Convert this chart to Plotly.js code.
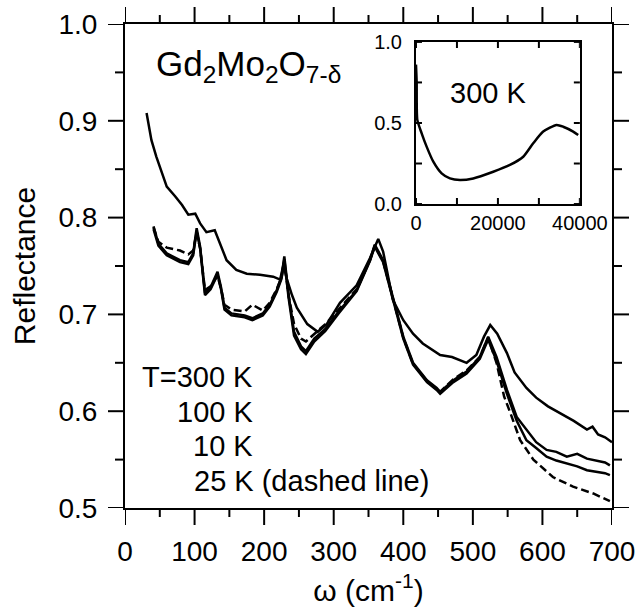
<!DOCTYPE html>
<html>
<head>
<meta charset="utf-8">
<script src="https://cdn.plot.ly/plotly-3.0.1.min.js"></script>
<style>html,body{margin:0;padding:0;background:#fff;}#chart{width:640px;height:614px;}</style>
</head>
<body>
<div id="chart"></div>
<script>
// ---- Data ----
const w300 = [31, 38, 45, 53, 60, 72, 82, 91, 101, 108, 117, 129, 137, 146, 160, 175, 194, 213, 223, 228, 232, 240, 247, 262, 277, 290, 309, 333, 352, 364, 371, 385, 400, 414, 428, 441, 453, 470, 491, 505, 516, 525, 535, 549, 560, 577, 591, 608, 625, 645, 664, 672, 680, 690, 700];
const r300 = [0.908, 0.88, 0.863, 0.846, 0.832, 0.822, 0.813, 0.803, 0.804, 0.794, 0.785, 0.787, 0.773, 0.756, 0.746, 0.742, 0.741, 0.739, 0.736, 0.752, 0.738, 0.72, 0.707, 0.69, 0.682, 0.69, 0.712, 0.73, 0.758, 0.778, 0.765, 0.715, 0.694, 0.68, 0.67, 0.664, 0.658, 0.656, 0.65, 0.658, 0.677, 0.689, 0.68, 0.66, 0.64, 0.624, 0.614, 0.605, 0.598, 0.59, 0.581, 0.584, 0.576, 0.573, 0.568];

const w100 = [41, 48, 60, 79, 91, 98, 103, 108, 115, 123, 133, 138, 143, 153, 172, 183, 198, 208, 218, 225, 229, 235, 243, 253, 260, 272, 288, 307, 333, 352, 359, 371, 385, 400, 414, 434, 448, 453, 472, 491, 510, 522, 534, 549, 563, 577, 591, 606, 620, 635, 650, 664, 680, 690, 697];
const r100 = [0.791, 0.773, 0.763, 0.756, 0.754, 0.763, 0.789, 0.77, 0.722, 0.728, 0.744, 0.728, 0.707, 0.701, 0.699, 0.696, 0.701, 0.71, 0.725, 0.739, 0.76, 0.721, 0.682, 0.667, 0.662, 0.675, 0.685, 0.703, 0.725, 0.756, 0.772, 0.756, 0.718, 0.677, 0.65, 0.632, 0.624, 0.62, 0.632, 0.641, 0.656, 0.677, 0.656, 0.622, 0.594, 0.581, 0.568, 0.56, 0.558, 0.553, 0.556, 0.551, 0.549, 0.547, 0.544];

const w10 = [41, 48, 60, 79, 91, 98, 103, 108, 115, 123, 133, 138, 143, 153, 172, 183, 198, 208, 218, 225, 229, 235, 243, 253, 260, 272, 288, 307, 333, 352, 359, 371, 385, 400, 414, 434, 448, 453, 472, 491, 510, 522, 534, 549, 563, 577, 591, 606, 620, 635, 650, 664, 680, 690, 697];
const r10 = [0.788, 0.771, 0.761, 0.754, 0.752, 0.761, 0.786, 0.768, 0.72, 0.726, 0.741, 0.726, 0.705, 0.699, 0.697, 0.694, 0.699, 0.708, 0.723, 0.737, 0.757, 0.718, 0.678, 0.664, 0.659, 0.672, 0.683, 0.701, 0.724, 0.755, 0.77, 0.754, 0.716, 0.675, 0.648, 0.63, 0.622, 0.618, 0.63, 0.639, 0.654, 0.674, 0.652, 0.618, 0.59, 0.57, 0.562, 0.553, 0.549, 0.546, 0.543, 0.539, 0.537, 0.536, 0.534];

const w25 = [41, 48, 60, 79, 91, 98, 103, 108, 115, 123, 133, 138, 143, 153, 172, 183, 198, 208, 218, 225, 229, 235, 243, 253, 260, 272, 288, 307, 333, 352, 359, 371, 385, 400, 414, 434, 448, 453, 472, 491, 510, 522, 534, 545, 554, 568, 587, 615, 644, 673, 697];
const r25 = [0.79, 0.775, 0.769, 0.766, 0.762, 0.766, 0.785, 0.768, 0.725, 0.729, 0.74, 0.727, 0.71, 0.705, 0.703, 0.71, 0.704, 0.712, 0.726, 0.738, 0.755, 0.72, 0.69, 0.675, 0.672, 0.68, 0.69, 0.705, 0.726, 0.756, 0.771, 0.755, 0.716, 0.676, 0.649, 0.631, 0.623, 0.62, 0.633, 0.642, 0.656, 0.676, 0.65, 0.615, 0.598, 0.57, 0.55, 0.532, 0.522, 0.515, 0.507];

const wInset = [0, 166, 325, 1390, 2600, 4230, 6260, 8290, 10730, 13980, 18860, 22930, 26180, 28620, 31060, 34310, 35930, 38370, 39590];
const rInset = [0.86, 0.75, 0.519, 0.436, 0.354, 0.261, 0.189, 0.158, 0.148, 0.158, 0.199, 0.241, 0.292, 0.375, 0.447, 0.488, 0.477, 0.447, 0.426];

// tick values
const xMajorTicks = [0, 100, 200, 300, 400, 500, 600, 700];
const xMinorTicks = [50, 150, 250, 350, 450, 550, 650];
const yMajorTicks = [0.5, 0.6, 0.7, 0.8, 0.9, 1.0];
const yMinorTicks = [0.55, 0.65, 0.75, 0.85, 0.95];
const insetXMajorTicks = [0, 20000, 40000];
const insetXMinorTicks = [10000, 30000];
const insetYMajorTicks = [0, 0.5, 1.0];
const insetYMinorTicks = [0.25, 0.75];
const labelLines = ["T=300 K", "100 K", "10 K"];

const F = "Arial, 'Liberation Sans', sans-serif";
const lineStyle = {color: '#000', width: 2.5};

const traces = [
  {x: w300, y: r300, mode: 'lines', line: lineStyle, xaxis: 'x', yaxis: 'y', showlegend: false},
  {x: w100, y: r100, mode: 'lines', line: lineStyle, xaxis: 'x', yaxis: 'y', showlegend: false},
  {x: w10, y: r10, mode: 'lines', line: lineStyle, xaxis: 'x', yaxis: 'y', showlegend: false},
  {x: w25, y: r25, mode: 'lines', line: {color: '#000', width: 2.5, dash: '8px,4px'}, xaxis: 'x', yaxis: 'y', showlegend: false},
  {x: wInset, y: rInset, mode: 'lines', line: {color: '#000', width: 2.5, shape: 'spline', smoothing: 0.6}, xaxis: 'x2', yaxis: 'y2', showlegend: false}
];

const annotations = [
  {xref: 'x', yref: 'y', x: 42, y: 0.957, xanchor: 'left', yanchor: 'middle', showarrow: false,
   text: 'Gd<sub>2</sub>Mo<sub>2</sub>O<sub>7-δ</sub>', font: {family: F, size: 35, color: '#000'}},
  {xref: 'x2', yref: 'y2', x: 17560, y: 0.685, xanchor: 'center', yanchor: 'middle', showarrow: false,
   text: '300 K', font: {family: F, size: 29, color: '#000'}},
  {xref: 'x', yref: 'y', x: 96, y: 0.528, xanchor: 'left', yanchor: 'middle', showarrow: false,
   text: '25 K (dashed line)', font: {family: F, size: 29, color: '#000'}}
];
const lineY = [0.635, 0.599, 0.564];
labelLines.forEach((t, i) => annotations.push({xref: 'x', yref: 'y', x: 187, y: lineY[i], xanchor: 'right', yanchor: 'middle', showarrow: false,
  text: t, font: {family: F, size: 29, color: '#000'}}));

// ---- tick marks, placed by the axes (data position along the axis, pixel length across it) ----
const shapes = [];
const tk = {color: '#000', width: 2};
function xTicks(xref, yref, vals, len) {   // len > 0 : outward; len < 0 : inward
  vals.forEach(v => {
    shapes.push({type: 'line', xref: xref, yref: yref, ysizemode: 'pixel', yanchor: 0, x0: v, x1: v, y0: 0, y1: -len, line: tk, layer: 'above'});
    shapes.push({type: 'line', xref: xref, yref: yref, ysizemode: 'pixel', yanchor: 1, x0: v, x1: v, y0: 0, y1: len, line: tk, layer: 'above'});
  });
}
function yTicks(xref, yref, vals, len) {
  vals.forEach(v => {
    shapes.push({type: 'line', xref: xref, yref: yref, xsizemode: 'pixel', xanchor: 0, y0: v, y1: v, x0: 0, x1: -len, line: tk, layer: 'above'});
    shapes.push({type: 'line', xref: xref, yref: yref, xsizemode: 'pixel', xanchor: 1, y0: v, y1: v, x0: 0, x1: len, line: tk, layer: 'above'});
  });
}
xTicks('x', 'paper', xMajorTicks, 17);
xTicks('x', 'paper', xMinorTicks, 9);
yTicks('paper', 'y', yMajorTicks, 17);
yTicks('paper', 'y', yMinorTicks, 10);
xTicks('x2', 'y2 domain', insetXMajorTicks.concat(insetXMinorTicks), -6);
yTicks('x2 domain', 'y2', insetYMajorTicks.concat(insetYMinorTicks), -6);

const common = {showline: true, linewidth: 2, linecolor: '#000', mirror: true, showgrid: false, zeroline: false,
  tickcolor: 'rgba(0,0,0,0)', tickwidth: 2};

const layout = {
  width: 640, height: 614,
  margin: {l: 125, r: 28, t: 24, b: 106},
  paper_bgcolor: '#fff', plot_bgcolor: '#fff',
  font: {family: F, color: '#000'},
  xaxis: Object.assign({}, common, {
    domain: [0, 1], range: [0, 700], tickmode: 'array', tickvals: xMajorTicks, ticks: 'outside', ticklen: 17,
    tickfont: {family: F, size: 28},
    title: {text: 'ω (cm<sup>-1</sup>)', font: {family: F, size: 30}, standoff: 14}
  }),
  yaxis: Object.assign({}, common, {
    domain: [0, 1], range: [0.5, 1.0], tickmode: 'array', tickvals: yMajorTicks, tickformat: '.1f', ticks: 'outside', ticklen: 17,
    ticklabelstandoff: 3,
    tickfont: {family: F, size: 28},
    title: {text: 'Reflectance', font: {family: F, size: 30}, standoff: 14}
  }),
  xaxis2: Object.assign({}, common, {
    domain: [0.5975, 0.934], anchor: 'y2', range: [0, 40000], tickmode: 'array', tickvals: insetXMajorTicks,
    tickformat: 'd', ticks: 'inside', ticklen: 6,
    tickfont: {family: F, size: 20}
  }),
  yaxis2: Object.assign({}, common, {
    domain: [0.628, 0.963], anchor: 'x2', range: [0, 1.0], tickmode: 'array', tickvals: insetYMajorTicks, tickformat: '.1f',
    ticks: 'inside', ticklen: 6, ticklabelstandoff: 8,
    tickfont: {family: F, size: 20}
  }),
  annotations: annotations,
  shapes: shapes
};

Plotly.newPlot('chart', traces, layout, {displayModeBar: false});
</script>
</body>
</html>
